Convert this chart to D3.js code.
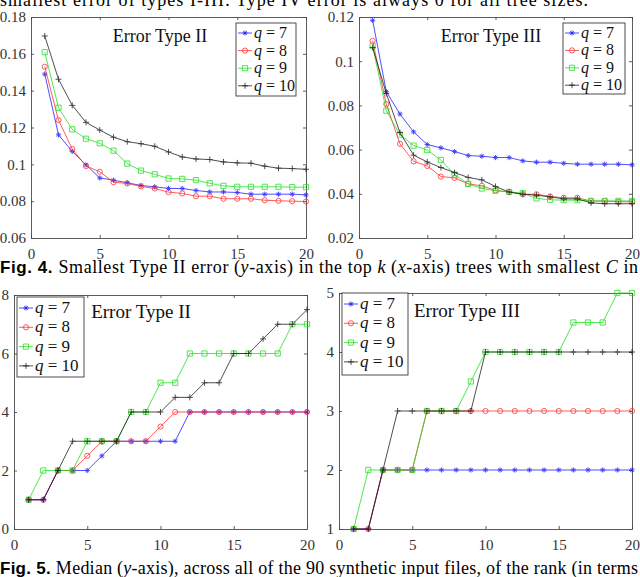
<!DOCTYPE html>
<html>
<head>
<meta charset="utf-8">
<script src="https://cdn.jsdelivr.net/npm/d3@7/dist/d3.min.js"></script>
<style>
  body { margin: 0; background: #fff; }
  svg { font-family: "Liberation Serif", "Times New Roman", serif; }
  svg text { font-family: "Liberation Serif", "Times New Roman", serif !important; }
  svg text.sans, svg tspan.sans { font-family: "Liberation Sans", Arial, sans-serif !important; }
</style>
</head>
<body>
<div id="fig"></div>
<script>
// ---- data ----
const kValues = [1,2,3,4,5,6,7,8,9,10,11,12,13,14,15,16,17,18,19,20];
const qValues = [7, 8, 9, 10];

// Fig. 4 left: smallest Type II error
const errII_q7  = [0.149,0.116,0.107,0.0997,0.0926,0.0914,0.0900,0.0885,0.0878,0.0869,0.0869,0.0858,0.0850,0.0850,0.0847,0.0838,0.0838,0.0838,0.0838,0.0834];
const errII_q8  = [0.153,0.124,0.1083,0.0991,0.0960,0.0903,0.0896,0.0880,0.0869,0.0849,0.0842,0.0827,0.0827,0.0813,0.0813,0.0813,0.0805,0.0802,0.0800,0.0798];
const errII_q9  = [0.1609,0.1307,0.1190,0.1139,0.1114,0.1074,0.1004,0.0966,0.0946,0.0923,0.0921,0.0914,0.0897,0.0883,0.0878,0.0878,0.0878,0.0878,0.0876,0.0876];
const errII_q10 = [0.1697,0.1462,0.1320,0.1228,0.1186,0.1147,0.1123,0.1112,0.1098,0.1067,0.1040,0.1029,0.1026,0.1013,0.1008,0.1006,0.0990,0.0979,0.0977,0.0973];

// Fig. 4 right: smallest Type III error
const errIII_q7  = [0.1185,0.0862,0.0761,0.0680,0.0623,0.0608,0.0591,0.0573,0.0570,0.0564,0.0564,0.0549,0.0543,0.0543,0.0538,0.0534,0.0534,0.0534,0.0534,0.0531];
const errIII_q8  = [0.1092,0.0806,0.0626,0.0547,0.0526,0.0478,0.0472,0.0445,0.0436,0.0415,0.0408,0.0398,0.0398,0.0388,0.0382,0.0382,0.0367,0.0367,0.0364,0.0364];
const errIII_q9  = [0.1068,0.0776,0.0668,0.0618,0.0598,0.0553,0.0487,0.0445,0.0424,0.0414,0.0409,0.0403,0.0379,0.0373,0.0371,0.0371,0.0368,0.0368,0.0368,0.0368];
const errIII_q10 = [0.1062,0.0854,0.0677,0.0575,0.0544,0.0519,0.0496,0.0474,0.0463,0.0433,0.0408,0.0398,0.0394,0.0386,0.0377,0.0377,0.0359,0.0355,0.0355,0.0355];

// Fig. 5 left: median rank, Type II
const rankII_q7  = [1,1,2,2,2,2.5,3,3,3,3,3,4,4,4,4,4,4,4,4,4];
const rankII_q8  = [1,1,2,2,2.5,3,3,3,3,3.5,4,4,4,4,4,4,4,4,4,4];
const rankII_q9  = [1,2,2,2,3,3,3,4,4,5,5,6,6,6,6,6,6,6,7,7];
const rankII_q10 = [1,1,2,3,3,3,3,4,4,4,4.5,4.5,5,5,6,6,6.5,7,7,7.5];

// Fig. 5 right: median rank, Type III
const rankIII_q7  = [1,1,2,2,2,2,2,2,2,2,2,2,2,2,2,2,2,2,2,2];
const rankIII_q8  = [1,1,2,2,2,3,3,3,3,3,3,3,3,3,3,3,3,3,3,3];
const rankIII_q9  = [1,2,2,2,2,3,3,3,3.5,4,4,4,4,4,4,4.5,4.5,4.5,5,5];
const rankIII_q10 = [1,1,2,3,3,3,3,3,3,4,4,4,4,4,4,4,4,4,4,4];

// tick labels
const xTicks = [0, 5, 10, 15, 20];
const errIITicks  = [0.06, 0.08, 0.10, 0.12, 0.14, 0.16, 0.18];
const errIIITicks = [0.02, 0.04, 0.06, 0.08, 0.10, 0.12];
const rankIITicks  = [0, 2, 4, 6, 8];
const rankIIITicks = [1, 2, 3, 4, 5];

// ---- styles (MATLAB-like) ----
const seriesStyle = [
  {color: '#1a1aff', marker: 'star'},
  {color: '#ff2a2a', marker: 'circle'},
  {color: '#1ee01e', marker: 'square'},
  {color: '#1a1a1a', marker: 'plus'}
];

function markerPath(type){
  const r = 2.6;
  switch(type){
    case 'star': {
      const d = r * 0.7;
      return `M${-r},0H${r}M0,${-r}V${r}M${-d},${-d}L${d},${d}M${-d},${d}L${d},${-d}`;
    }
    case 'plus': return `M-3,0H3M0,-3V3`;
    case 'square': return `M${-r},${-r}H${r}V${r}H${-r}Z`;
    default: return d3.symbol(d3.symbolCircle, Math.PI * r * r)();
  }
}

/**
 * One MATLAB-style boxed line panel
 */
class LinePanel {
  svg; g; left; top; right; bottom;
  scaleX; scaleY;

  constructor(svg, box){
    this.svg = svg;
    Object.assign(this, box);
    this.g = svg.append('g');
  }

  #updateScales(yDomain){
    this.scaleX = d3.scaleLinear([0, 20], [this.left, this.right]);
    this.scaleY = d3.scaleLinear(yDomain, [this.bottom, this.top]);
  }

  #updateAxes(yTicks, fmt){
    const tick = -3;
    const styleAxis = sel => {
      sel.attr('font-family', null).attr('font-size', null);
      sel.select('.domain').attr('stroke', '#4a4a4a').attr('stroke-width', 0.9).attr('fill', 'none');
      sel.selectAll('.tick line').attr('stroke', '#4a4a4a').attr('stroke-width', 0.9);
      sel.selectAll('.tick text').attr('fill', '#333').style('font-size', '15px');
    };
    this.g.append('g').attr('transform', `translate(0,${this.bottom})`)
      .call(d3.axisBottom(this.scaleX).tickValues(xTicks).tickSize(tick).tickSizeOuter(0).tickPadding(10))
      .call(styleAxis);
    this.g.append('g').attr('transform', `translate(0,${this.top})`)
      .call(d3.axisTop(this.scaleX).tickValues(xTicks).tickSize(tick).tickSizeOuter(0).tickFormat(''))
      .call(styleAxis);
    this.g.append('g').attr('transform', `translate(${this.left},0)`)
      .call(d3.axisLeft(this.scaleY).tickValues(yTicks).tickSize(tick).tickSizeOuter(0).tickPadding(5).tickFormat(fmt))
      .call(styleAxis);
    this.g.append('g').attr('transform', `translate(${this.right},0)`)
      .call(d3.axisRight(this.scaleY).tickValues(yTicks).tickSize(tick).tickSizeOuter(0).tickFormat(''))
      .call(styleAxis);
  }

  #updateLines(series){
    const line = d3.line().x((d, i) => this.scaleX(kValues[i])).y(d => this.scaleY(d));
    series.forEach((vals, s) => {
      const st = seriesStyle[s];
      const sg = this.g.append('g').attr('opacity', 0.85);
      sg.append('path').attr('d', line(vals)).attr('fill', 'none')
        .attr('stroke', st.color).attr('stroke-width', 0.9);
      sg.selectAll('path.mk').data(vals).join('path').classed('mk', true)
        .attr('transform', (d, i) => `translate(${this.scaleX(kValues[i])},${this.scaleY(d)})`)
        .attr('d', markerPath(st.marker))
        .attr('fill', 'none').attr('stroke', st.color).attr('stroke-width', 0.9);
    });
  }

  #updateLegend(lg){
    const g = this.g.append('g');
    g.append('rect').attr('x', lg.x).attr('y', lg.y).attr('width', lg.w).attr('height', lg.h)
      .attr('fill', '#fff').attr('stroke', '#3a3a3a').attr('stroke-width', 0.9);
    qValues.forEach((q, i) => {
      const st = seriesStyle[i];
      const cy = lg.y + lg.first + i * lg.step;
      g.append('path').attr('d', `M${lg.x + 2},${cy}H${lg.x + 16}`)
        .attr('stroke', st.color).attr('stroke-width', 0.9).attr('opacity', 0.85);
      g.append('path').attr('transform', `translate(${lg.x + 9},${cy})`).attr('d', markerPath(st.marker))
        .attr('fill', 'none').attr('stroke', st.color).attr('stroke-width', 0.9).attr('opacity', 0.85);
      const t = g.append('text').attr('x', lg.x + 18).attr('y', cy + 5).style('font-size', lg.font + 'px').attr('fill', '#111');
      t.append('tspan').style('font-style', 'italic').text('q');
      t.append('tspan').text(` = ${q}`);
    });
  }

  render(series, opts){
    this.#updateScales(opts.yDomain);
    this.#updateAxes(opts.yTicks, opts.fmt);
    this.#updateLines(series);
    this.g.append('text').attr('x', opts.titleX).attr('y', opts.titleY)
      .attr('text-anchor', 'middle').style('font-size', opts.titleSize + 'px').attr('fill', '#111')
      .text(opts.title);
    this.#updateLegend(opts.legend);
    return this;
  }
}

// ---- page ----
const W = 640, H = 577;
const svg = d3.select('#fig').append('svg').attr('width', W).attr('height', H);

const fmtErr = d => d3.format('')(+d.toFixed(2));

new LinePanel(svg, {left: 31, top: 17, right: 306, bottom: 238})
  .render([errII_q7, errII_q8, errII_q9, errII_q10], {
    yDomain: [0.06, 0.18], yTicks: errIITicks, fmt: fmtErr,
    title: 'Error Type II', titleX: 160, titleY: 42, titleSize: 18,
    legend: {x: 236, y: 23, w: 60, h: 73, first: 10, step: 17.6, font: 16}
  });

new LinePanel(svg, {left: 359, top: 17, right: 632, bottom: 238})
  .render([errIII_q7, errIII_q8, errIII_q9, errIII_q10], {
    yDomain: [0.02, 0.12], yTicks: errIIITicks, fmt: fmtErr,
    title: 'Error Type III', titleX: 491, titleY: 42, titleSize: 18,
    legend: {x: 563, y: 23, w: 62, h: 71, first: 10, step: 17.4, font: 16}
  });

new LinePanel(svg, {left: 14, top: 295, right: 307, bottom: 529})
  .render([rankII_q7, rankII_q8, rankII_q9, rankII_q10], {
    yDomain: [0, 8], yTicks: rankIITicks, fmt: d3.format('d'),
    title: 'Error Type II', titleX: 141, titleY: 318, titleSize: 19,
    legend: {x: 17, y: 297, w: 67, h: 80, first: 11, step: 19.3, font: 17}
  });

new LinePanel(svg, {left: 339, top: 293, right: 632, bottom: 529})
  .render([rankIII_q7, rankIII_q8, rankIII_q9, rankIII_q10], {
    yDomain: [1, 5], yTicks: rankIIITicks, fmt: d3.format('d'),
    title: 'Error Type III', titleX: 467, titleY: 317, titleSize: 19,
    legend: {x: 342, y: 293, w: 66, h: 82, first: 11, step: 19.3, font: 17}
  });

// caption fragments from the surrounding page
function caption(y, bold, rest, width){
  const t = svg.append('text').attr('x', 0).attr('y', y).attr('fill', '#000');
  if (bold) t.append('tspan').classed('sans', true)
    .style('font-weight', 'bold').style('font-size', '17px').text(bold + ' ');
  rest.forEach(([s, it]) => t.append('tspan').style('font-size', '18px')
    .style('font-style', it ? 'italic' : 'normal').text(s));
  if (width) t.attr('textLength', width).attr('lengthAdjust', 'spacing');
}
caption(6, null, [['smallest error of types I-III. Type IV error is always 0 for all tree sizes.', false]], 588);
caption(272.5, 'Fig. 4.', [['Smallest Type II error (', false], ['y', true], ['-axis) in the top ', false], ['k', true],
  [' (', false], ['x', true], ['-axis) trees with smallest ', false], ['C', true], [' in', false]], 638);
caption(574, 'Fig. 5.', [['Median (', false], ['y', true], ['-axis), across all of the 90 synthetic input files, of the rank (in terms', false]], 638);
</script>
</body>
</html>
